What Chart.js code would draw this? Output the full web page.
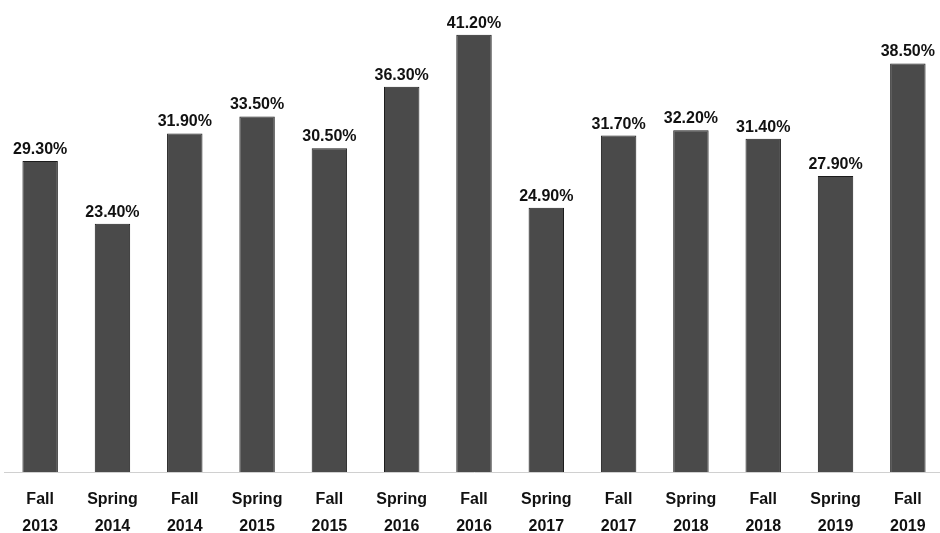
<!DOCTYPE html>
<html>
<head>
<meta charset="utf-8">
<script src="https://cdn.jsdelivr.net/npm/chart.js@4/dist/chart.umd.min.js"></script>
<style>
  html, body { margin: 0; padding: 0; background: #fff; overflow: hidden; }
  #wrap { position: relative; width: 944px; height: 548px; }
</style>
</head>
<body>
<div id="wrap"><canvas id="chart"></canvas></div>
<script>
// Semester labels (two lines each) and percentage values
const terms = ['Fall', 'Spring', 'Fall', 'Spring', 'Fall', 'Spring', 'Fall', 'Spring', 'Fall', 'Spring', 'Fall', 'Spring', 'Fall'];
const years = ['2013', '2014', '2014', '2015', '2015', '2016', '2016', '2017', '2017', '2018', '2018', '2019', '2019'];
const rates = [29.3, 23.4, 31.9, 33.5, 30.5, 36.3, 41.2, 24.9, 31.7, 32.2, 31.4, 27.9, 38.5];

const categories = terms.map((t, i) => [t, years[i]]);

// Writes the percentage above every bar
const valueLabels = {
  id: 'valueLabels',
  afterDatasetsDraw(chart) {
    const ctx = chart.ctx;
    const meta = chart.getDatasetMeta(0);
    ctx.save();
    ctx.font = 'bold 16px "Liberation Sans", Arial, sans-serif';
    ctx.fillStyle = '#111';
    ctx.textAlign = 'center';
    ctx.textBaseline = 'alphabetic';
    meta.data.forEach((bar, i) => {
      const v = chart.data.datasets[0].data[i];
      ctx.fillText(v.toFixed(2) + '%', bar.x, bar.y - 7);
    });
    ctx.restore();
  }
};

new Chart(document.getElementById('chart'), {
  type: 'bar',
  data: {
    labels: categories,
    datasets: [{
      data: rates,
      backgroundColor: '#4a4a4a',
      borderColor: '#1c1c1c',
      borderWidth: 1,
      categoryPercentage: 1.0,
      barPercentage: 0.49
    }]
  },
  options: {
    responsive: true,
    maintainAspectRatio: false,
    animation: false,
    layout: { padding: { left: 4, right: 0, top: 5, bottom: 2 } },
    plugins: {
      legend: { display: false },
      tooltip: { enabled: false }
    },
    scales: {
      y: {
        display: false,
        min: 0,
        max: 44
      },
      x: {
        grid: { display: false },
        border: { display: true, color: '#d0d0d0', width: 1, dash: [2, 2] },
        ticks: {
          color: '#111',
          padding: 6,
          maxRotation: 0,
          autoSkip: false,
          font: { family: '"Liberation Sans", Arial, sans-serif', size: 16, weight: 'bold', lineHeight: 1.6875 }
        }
      }
    }
  },
  plugins: [valueLabels]
});
</script>
</body>
</html>
